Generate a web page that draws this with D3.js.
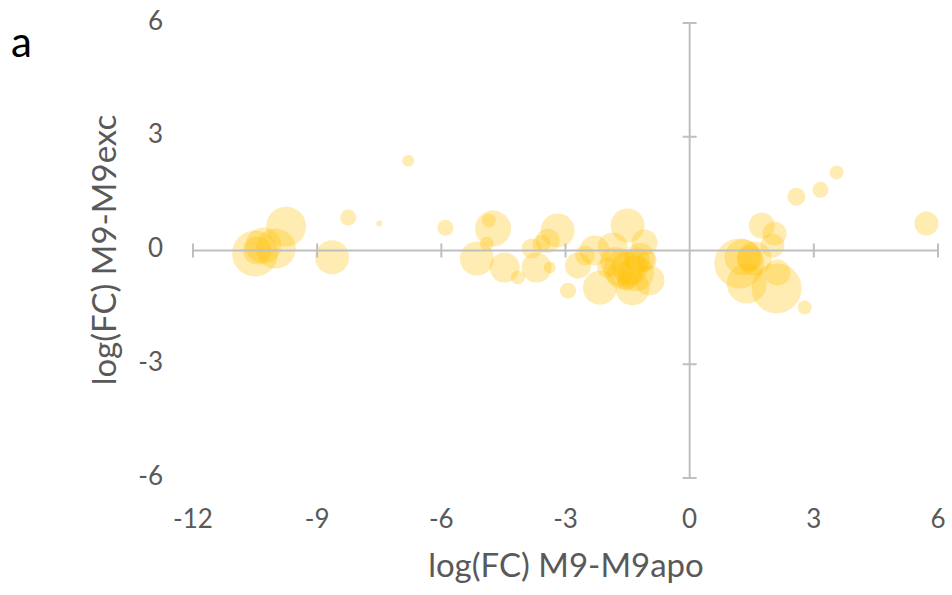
<!DOCTYPE html>
<html>
<head>
<meta charset="utf-8">
<script src="https://cdn.jsdelivr.net/npm/d3@7"></script>
<style>
  body { margin: 0; background: #fff; }
  text { font-family: Lato, "Open Sans", sans-serif; }
</style>
</head>
<body>
<div id="vizArea"></div>
<script>
// log(FC) M9-M9apo
const fcApo = [
  -9.75, -10.5, -10.3, -10.0, -10.45, -8.64, -8.25, -7.5, -6.8, -5.9,
  -4.75, -4.85, -5.14, -4.9, -4.47, -4.15, -3.7, -3.82, -3.58, -3.378,
  -3.19, -3.43, -2.94, -2.7,
  -1.5, -2.53, -1.86, -1.09, -2.17, -1.45, -1.38, -0.97, -1.69, -1.28, -1.52, -2.0, -1.04,
  -1.6, -1.3, -1.8, -2.3, -1.2,
  1.74, 2.05, 1.2, 1.28, 1.45, 1.38, 2.1, 2.12, 2.0, 2.78, 1.57,
  2.58, 3.16, 3.55, 5.72
];
// log(FC) M9-M9exc
const fcExc = [
  0.63, -0.08, 0.13, 0.05, 0.0, -0.18, 0.87, 0.71, 2.37, 0.6,
  0.58, 0.79, -0.21, 0.18, -0.45, -0.71, -0.45, 0.05, 0.18, -0.45,
  0.53, 0.26, -1.06, -0.4,
  0.66, -0.13, 0.08, 0.21, -0.98, -0.45, -1.0, -0.79, -0.61, -0.26, -0.79, -0.45, -0.26,
  -0.5, -0.6, -0.3, 0.0, -0.2,
  0.66, 0.45, -0.34, -0.18, -0.21, -0.87, -1.0, -0.58, 0.13, -1.5, -0.21,
  1.42, 1.6, 2.06, 0.71
];
// bubble size
const bubbleSize = [
  400, 530, 324, 400, 196, 289, 64, 9, 36, 64,
  324, 49, 289, 49, 225, 49, 225, 100, 81, 36,
  289, 144, 64, 169,
  289, 100, 225, 169, 289, 324, 289, 225, 169, 169, 100, 100, 100,
  400, 324, 225, 225, 225,
  169, 144, 625, 324, 169, 400, 625, 169, 144, 49, 289,
  81, 64, 49, 144
];

const xTicks = [-12, -9, -6, -3, 0, 3, 6];
const yTicks = [-6, -3, 0, 3, 6];

const width = 952, height = 595;
const svg = d3.select("#vizArea")
  .append("svg")
  .attr("width", width)
  .attr("height", height);

const x = d3.scaleLinear().domain([-12, 6]).range([193, 938]);
const y = d3.scaleLinear().domain([-6, 6]).range([478, 23]);
const r = d3.scaleSqrt().domain([0, 625]).range([0, 25]);

const axisColor = "#bfbfbf";
const labelColor = "#595959";

// bubbles
svg.append("g")
  .selectAll("circle")
  .data(fcApo.map((d, i) => ({ x: d, y: fcExc[i], s: bubbleSize[i] })))
  .join("circle")
  .attr("cx", d => x(d.x))
  .attr("cy", d => y(d.y))
  .attr("r", d => r(d.s))
  .attr("fill", "#ffc000")
  .attr("fill-opacity", 0.3);

// axes crossing at 0,0
const axes = svg.append("g").attr("stroke", axisColor).attr("stroke-width", 2);
axes.append("line")
  .attr("x1", x(-12)).attr("x2", x(6))
  .attr("y1", y(0)).attr("y2", y(0));
axes.append("line")
  .attr("x1", x(0)).attr("x2", x(0))
  .attr("y1", y(6)).attr("y2", y(-6));

axes.selectAll(".xt")
  .data(xTicks.filter(d => d !== 0))
  .join("line")
  .attr("x1", d => x(d)).attr("x2", d => x(d))
  .attr("y1", y(0) - 7).attr("y2", y(0) + 7);
axes.selectAll(".yt")
  .data(yTicks.filter(d => d !== 0))
  .join("line")
  .attr("x1", x(0) - 7).attr("x2", x(0) + 7)
  .attr("y1", d => y(d)).attr("y2", d => y(d));

// tick labels (low position)
svg.append("g")
  .selectAll("text")
  .data(xTicks)
  .join("text")
  .attr("x", d => x(d))
  .attr("y", 521)
  .attr("text-anchor", "middle")
  .attr("dominant-baseline", "middle")
  .attr("font-size", 26)
  .attr("fill", labelColor)
  .text(d => d);

svg.append("g")
  .selectAll("text")
  .data(yTicks)
  .join("text")
  .attr("x", 163)
  .attr("y", d => y(d))
  .attr("text-anchor", "end")
  .attr("dominant-baseline", "middle")
  .attr("font-size", 26)
  .attr("fill", labelColor)
  .text(d => d);

// axis titles
svg.append("text")
  .attr("x", 566)
  .attr("y", 569)
  .attr("text-anchor", "middle")
  .attr("dominant-baseline", "middle")
  .attr("font-size", 33)
  .attr("fill", labelColor)
  .text("log(FC) M9-M9apo");

svg.append("text")
  .attr("transform", "translate(108,250) rotate(-90)")
  .attr("text-anchor", "middle")
  .attr("dominant-baseline", "middle")
  .attr("font-size", 33)
  .attr("fill", labelColor)
  .text("log(FC) M9-M9exc");

svg.append("text")
  .attr("x", 11)
  .attr("y", 57)
  .attr("font-size", 42)
  .attr("fill", "#000")
  .text("a");
</script>
</body>
</html>
